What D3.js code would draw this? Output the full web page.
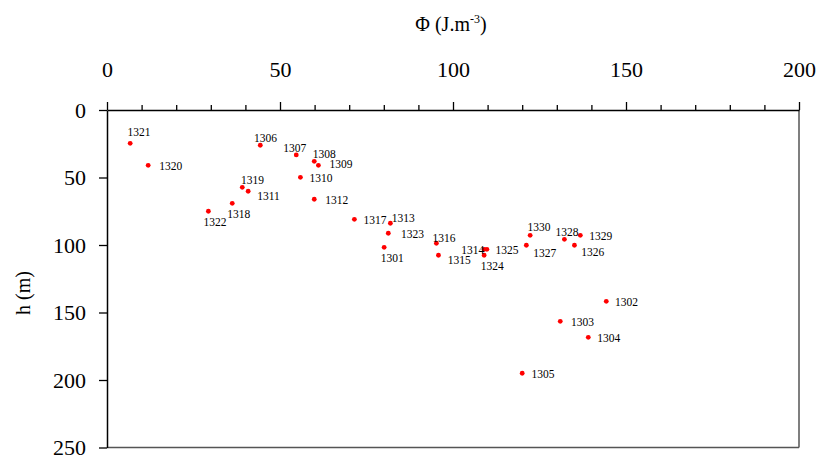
<!DOCTYPE html>
<html>
<head>
<meta charset="utf-8">
<script src="https://cdn.jsdelivr.net/npm/d3@7"></script>
<style>
  html, body { margin: 0; padding: 0; background: #fff; }
  svg { display: block; }
  svg text { font-family: "Liberation Serif", "Times New Roman", serif; }
</style>
</head>
<body>
<svg id="chart" width="820" height="457"></svg>
<script>
// ---- data ----
const names = ["1321","1320","1306","1307","1308","1309","1310","1319","1311","1312","1318","1322",
  "1317","1313","1323","1301","1316","1315","1314","1325","1324",
  "1330","1327","1328","1329","1326","1302","1303","1304","1305"];
const phi = [6.7, 11.9, 44.3, 54.7, 59.9, 61.1, 55.9, 39.1, 40.8, 59.9, 36.2, 29.3,
  71.5, 81.9, 81.3, 80.1, 95.2, 95.8, 109.0, 109.8, 109.0,
  122.3, 121.2, 132.2, 136.8, 135.1, 144.3, 131.0, 139.1, 120.0];
const h = [24.7, 41.0, 26.1, 33.3, 38.0, 41.0, 49.9, 57.3, 60.2, 66.1, 69.1, 75.0,
  81.0, 83.9, 91.3, 101.7, 98.7, 107.6, 103.2, 103.2, 107.6,
  92.8, 100.2, 95.8, 92.8, 100.2, 141.7, 156.5, 168.4, 195.0];
const xTicks = [0, 50, 100, 150, 200];
const xMinorTicks = [10,20,30,40,60,70,80,90,110,120,130,140,160,170,180,190];
const yTicks = [0, 50, 100, 150, 200, 250];

// ---- label placement (layout only: offsets in px from the point) ----
const labelOffsets = {
  "1321":[-2.6,-11], "1320":[11,0.7], "1306":[-6.3,-7], "1307":[-13,-6.7], "1308":[-1.6,-7.3],
  "1309":[11,-1], "1310":[9,0.7], "1319":[-1.3,-7], "1311":[9,4.7], "1312":[11,0.7],
  "1318":[-5,11], "1322":[-5,10.4], "1317":[9,0.7], "1313":[1.4,-5], "1323":[12.7,0.4],
  "1301":[-3.3,11], "1316":[-4,-5], "1315":[9.4,4.7], "1314":[-23,0.7], "1325":[8.7,0.7],
  "1324":[-3.3,10.7], "1330":[-2.6,-8], "1327":[7,8], "1328":[-9,-7.3], "1329":[9,0.4],
  "1326":[6.7,6.4], "1302":[8.7,0.7], "1303":[10.7,0.7], "1304":[9,0.7], "1305":[9.4,0.4]
};

const FONT = "Liberation Serif, Times New Roman, serif";
const points = names.map((n, i) => ({ name: n, x: phi[i], y: h[i] }));

const svg = d3.select("#chart");
const pLeft = 107, pRight = 799, pTop = 110, pBottom = 447.5;

const x = d3.scaleLinear().domain([0, 200]).range([pLeft, pRight]);
const y = d3.scaleLinear().domain([0, 250]).range([pTop, pBottom]);

// frame: right and bottom gray
svg.append("line").attr("x1", pRight).attr("x2", pRight).attr("y1", pTop).attr("y2", pBottom)
  .attr("stroke", "#555").attr("stroke-width", 1.5);
svg.append("line").attr("x1", pLeft).attr("x2", pRight).attr("y1", pBottom).attr("y2", pBottom)
  .attr("stroke", "#555").attr("stroke-width", 1.5);

// top axis minor ticks
const minorAxis = svg.append("g").attr("transform", `translate(0,${pTop})`)
  .call(d3.axisTop(x).tickValues(xMinorTicks).tickSize(5).tickFormat(""));
minorAxis.select(".domain").remove();

// top axis major
const xAxis = svg.append("g").attr("transform", `translate(0,${pTop})`)
  .call(d3.axisTop(x).tickValues(xTicks).tickSize(8).tickSizeOuter(0).tickPadding(25));

// left axis
const yAxis = svg.append("g").attr("transform", `translate(${pLeft},0)`)
  .call(d3.axisLeft(y).tickValues(yTicks).tickSize(8).tickSizeOuter(0).tickPadding(13));

[xAxis, yAxis].forEach(g => {
  g.attr("font-family", FONT);
  g.selectAll("text").attr("font-size", 22).attr("fill", "#000").attr("font-family", FONT);
});

[xAxis, yAxis, minorAxis].forEach(g => {
  g.selectAll("line").attr("stroke", "#000").attr("stroke-width", 1.3);
  g.selectAll(".domain").attr("stroke", "#000").attr("stroke-width", 1.5);
});

// titles
const title = svg.append("text").attr("x", 451).attr("y", 31)
  .attr("text-anchor", "middle").attr("font-size", 20).attr("fill", "#000")
  .attr("font-family", FONT);
title.append("tspan").text("Φ (J.m");
title.append("tspan").text("-3").attr("font-size", 12).attr("dy", -8);
title.append("tspan").text(")").attr("dy", 8);

svg.append("text").attr("transform", "translate(30,293) rotate(-90)")
  .attr("text-anchor", "middle").attr("font-size", 20).attr("fill", "#000")
  .attr("font-family", FONT)
  .text("h (m)");

// points
svg.append("g").selectAll("circle").data(points).join("circle")
  .attr("cx", d => x(d.x)).attr("cy", d => y(d.y)).attr("r", 2.4)
  .attr("fill", "#ff0000");

// labels
svg.append("g").selectAll("text").data(points).join("text")
  .attr("x", d => x(d.x) + labelOffsets[d.name][0])
  .attr("y", d => y(d.y) + labelOffsets[d.name][1])
  .attr("dy", "0.35em")
  .attr("font-size", 11.5).attr("fill", "#000").attr("font-family", FONT)
  .text(d => d.name);
</script>
</body>
</html>
